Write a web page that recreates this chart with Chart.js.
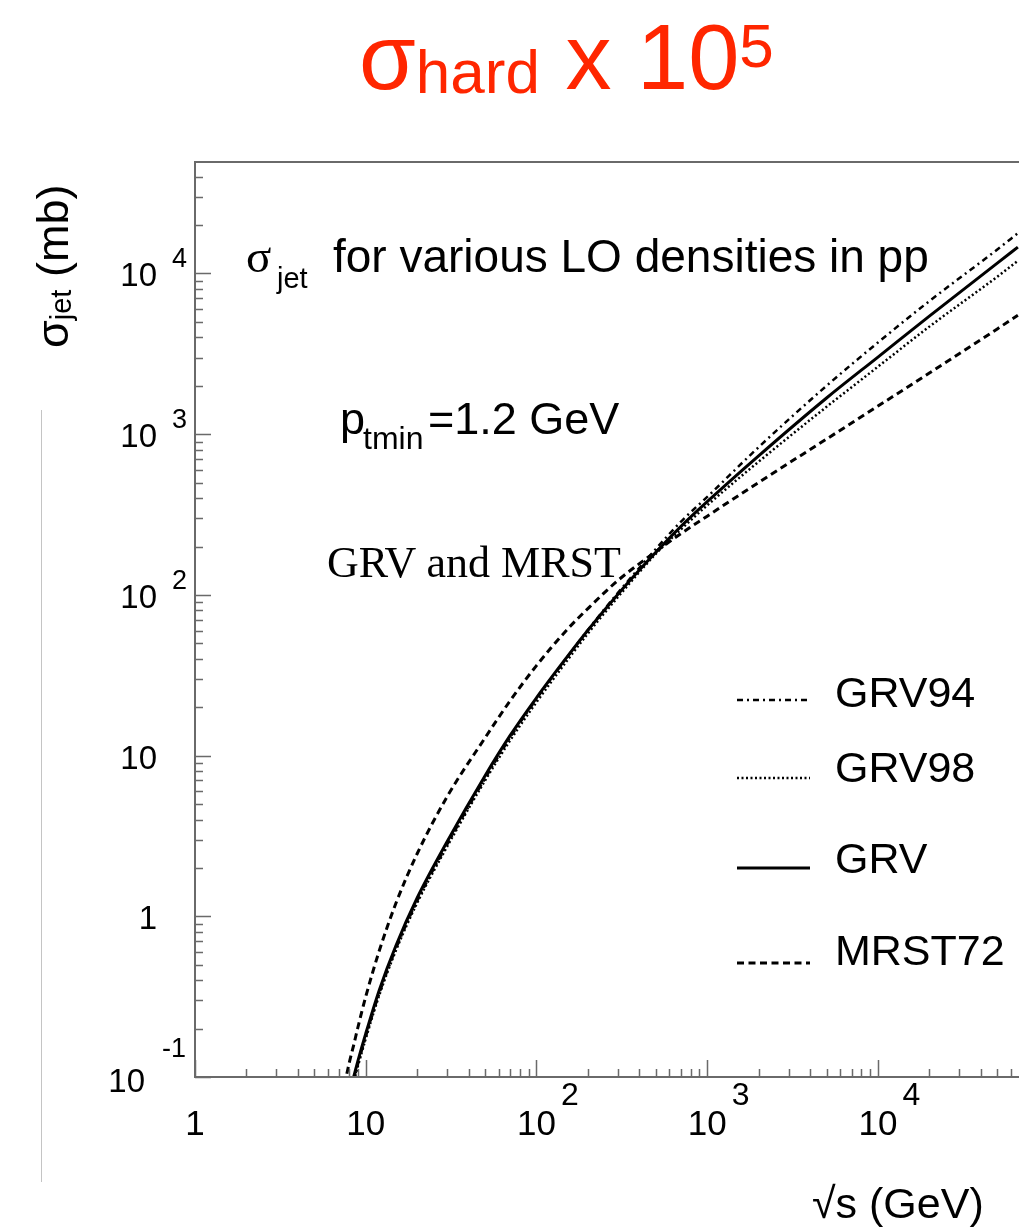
<!DOCTYPE html>
<html>
<head>
<meta charset="utf-8">
<script src="https://cdn.jsdelivr.net/npm/chart.js@4.4.1/dist/chart.umd.min.js"></script>
<style>
  html, body { margin:0; padding:0; background:#fff; }
  body { width:1019px; height:1228px; position:relative; overflow:hidden; font-family:"Liberation Sans", Arial, sans-serif; }
  .t { position:absolute; white-space:nowrap; line-height:1; color:#000; }
  canvas { position:absolute; left:0; top:0; }
</style>
</head>
<body>
<canvas id="c" width="1019" height="1228"></canvas>

<div class="t" id="title" style="left:359px; top:11px; font-size:92px; color:rgb(255,38,0);">σ<span style="font-size:62px; vertical-align:-4px;">hard</span> x 10<span style="font-size:62px; vertical-align:22px;">5</span></div>

<div class="t" id="ytitle" style="left:30px; top:348px; font-size:45px; transform-origin:0 0; transform:rotate(-90deg);">σ<span style="font-size:29px; vertical-align:-3px;">jet</span> (mb)</div>

<div style="position:absolute; left:41px; top:410px; width:1px; height:772px; background:#c4c4c4;"></div>

<div class="t" style="left:246px; top:233px; font-size:47px; font-family:'Liberation Serif', serif;">σ</div>
<div class="t" style="left:277px; top:263.5px; font-size:29px;">jet</div>
<div class="t" style="left:333px; top:233.1px; font-size:46px;">for various LO densities in pp</div>

<div class="t" style="left:340px; top:395.9px; font-size:45px;">p</div>
<div class="t" style="left:363px; top:421.9px; font-size:32px;">tmin</div>
<div class="t" style="left:428px; top:395.9px; font-size:45px;">=1.2 GeV</div>

<div class="t" style="left:327px; top:541.2px; font-size:44px; font-family:'Liberation Serif', serif;">GRV and MRST</div>

<div class="t" style="left:812px; top:1182px; font-size:43px;">√s (GeV)</div>

<script>
// ---------------- data ----------------
const sqrtS  = [7.5, 8, 8.5, 9, 10, 12, 15, 20, 30, 50, 70, 100, 150, 200, 300, 500, 700, 1000, 2000, 5000, 10000, 20000, 50000, 66000];
const grv94  = [0.059, 0.075, 0.095, 0.12, 0.177, 0.33, 0.625, 1.24, 2.8, 7.2, 12.9, 22.5, 40.5, 60.5, 103, 193, 285, 407, 830, 2000, 3720, 6730, 14100, 17800];
const grv98  = [0.058, 0.074, 0.093, 0.117, 0.173, 0.323, 0.61, 1.21, 2.72, 7.0, 12.4, 21.5, 38.6, 57.5, 97, 180, 255, 361, 674, 1480, 2630, 4670, 9550, 12000];
const grv    = [0.062, 0.079, 0.100, 0.126, 0.186, 0.347, 0.653, 1.30, 2.92, 7.50, 13.3, 22.9, 40.7, 60.3, 101, 184, 266, 380, 733, 1680, 3020, 5430, 11600, 14600];
const mrst72 = [0.089, 0.122, 0.158, 0.204, 0.316, 0.61, 1.20, 2.45, 5.56, 12.9, 21.9, 36.3, 60.3, 82.2, 123, 186, 240, 309, 501, 933, 1496, 2400, 4520, 5500];
const seriesLabels = ['GRV94', 'GRV98', 'GRV', 'MRST72'];

const xMajorTicks = [1, 10, 100, 1000, 10000];
const xTickBase   = ['1', '10', '10', '10', '10'];
const xTickExp    = ['', '', '2', '3', '4'];
const yMajorTicks = [0.1, 1, 10, 100, 1000, 10000];
const yTickBase   = ['10', '1', '10', '10', '10', '10'];
const yTickExp    = ['-1', '', '', '2', '3', '4'];

// ---------------- styles ----------------
const seriesValues = [grv94, grv98, grv, mrst72];
const seriesStyle = [
  { width: 2.5, dash: [6, 4, 2, 4] },
  { width: 2.5, dash: [2, 2.5] },
  { width: 3,   dash: [] },
  { width: 3,   dash: [7, 4.5] }
];
const legendRows = [ {line:700, text:707}, {line:778, text:782}, {line:868, text:873}, {line:963, text:965} ];

const decor = {
  id: 'decor',
  afterDatasetsDraw(chart) {
    const { ctx, chartArea: a, scales } = chart;
    const xs = scales.x, ys = scales.y;
    ctx.save();
    // frame (left, top, bottom)
    ctx.strokeStyle = '#6a6a6a';
    ctx.lineWidth = 2;
    ctx.beginPath();
    ctx.moveTo(a.right + 3, a.top); ctx.lineTo(a.left, a.top);
    ctx.lineTo(a.left, a.bottom); ctx.lineTo(a.right + 3, a.bottom);
    ctx.stroke();
    // ticks
    ctx.lineWidth = 1.5;
    ctx.beginPath();
    for (let e = -1; e <= 4; e++) {
      for (let m = 1; m <= 9; m++) {
        const v = m * Math.pow(10, e);
        if (v > ys.max * 1.0001 || v < ys.min * 0.9999) continue;
        const py = Math.round(ys.getPixelForValue(v)) + 0.5;
        const len = m === 1 ? 16 : 8;
        ctx.moveTo(a.left, py); ctx.lineTo(a.left + len, py);
      }
    }
    for (let e = 0; e <= 4; e++) {
      for (let m = 1; m <= 9; m++) {
        const v = m * Math.pow(10, e);
        if (v > xs.max || v < xs.min) continue;
        const px = Math.round(xs.getPixelForValue(v)) + 0.5;
        const len = m === 1 ? 17 : 8;
        ctx.moveTo(px, a.bottom); ctx.lineTo(px, a.bottom - len);
      }
    }
    ctx.stroke();

    // tick labels
    ctx.fillStyle = '#000';
    ctx.textBaseline = 'alphabetic';
    xMajorTicks.forEach((v, i) => {
      const px = xs.getPixelForValue(v);
      ctx.font = '35px "Liberation Sans"';
      ctx.textAlign = 'center';
      const base = xTickBase[i];
      ctx.fillText(base, px, a.bottom + 58);
      if (xTickExp[i]) {
        const w = ctx.measureText(base).width;
        ctx.font = '32px "Liberation Sans"';
        ctx.textAlign = 'left';
        ctx.fillText(xTickExp[i], px + w / 2 + 5, a.bottom + 28);
      }
    });
    yMajorTicks.forEach((v, i) => {
      const py = ys.getPixelForValue(v);
      const exp = yTickExp[i];
      const neg = exp.startsWith('-');
      ctx.font = '33px "Liberation Sans"';
      ctx.textAlign = 'right';
      ctx.fillText(yTickBase[i], a.left - (neg ? 50 : 38), py + (neg ? 15 : 13));
      if (exp) {
        ctx.font = '27px "Liberation Sans"';
        ctx.textAlign = 'left';
        ctx.fillText(exp, a.left - (neg ? 33 : 23), py - (neg ? 20 : 6));
      }
    });

    // legend
    chart.data.datasets.forEach((ds, i) => {
      const r = legendRows[i];
      ctx.strokeStyle = ds.borderColor;
      ctx.lineWidth = ds.borderWidth;
      ctx.setLineDash(ds.borderDash);
      ctx.beginPath();
      ctx.moveTo(737, r.line); ctx.lineTo(810, r.line);
      ctx.stroke();
      ctx.setLineDash([]);
      ctx.font = '43px "Liberation Sans"';
      ctx.textAlign = 'left';
      ctx.fillStyle = '#000';
      ctx.fillText(ds.label, 835, r.text);
    });
    ctx.restore();
  }
};

new Chart(document.getElementById('c'), {
  type: 'line',
  data: {
    datasets: seriesLabels.map((label, k) => ({
      label,
      data: sqrtS.map((x, i) => ({ x, y: seriesValues[k][i] })),
      borderColor: '#000',
      borderWidth: seriesStyle[k].width,
      borderDash: seriesStyle[k].dash,
      pointRadius: 0,
      fill: false,
      cubicInterpolationMode: 'monotone',
      clip: 0
    }))
  },
  options: {
    responsive: false,
    animation: false,
    events: [],
    layout: { padding: { left: 195, top: 162, right: 0, bottom: 151 } },
    plugins: { legend: { display: false }, tooltip: { enabled: false }, title: { display: false } },
    scales: {
      x: { type: 'logarithmic', min: 1, max: 67000, display: false },
      y: { type: 'logarithmic', min: 0.1, max: 49400, display: false }
    }
  },
  plugins: [decor]
});
</script>
</body>
</html>
